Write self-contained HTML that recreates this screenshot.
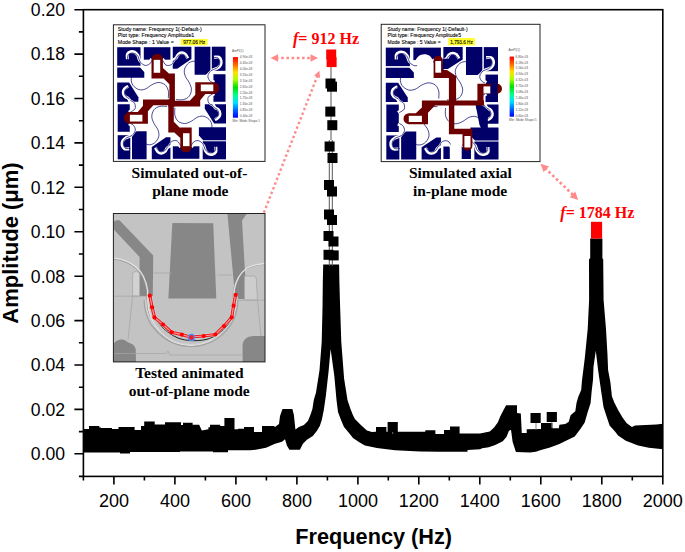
<!DOCTYPE html>
<html><head><meta charset="utf-8"><style>
html,body{margin:0;padding:0;background:#fff;}
svg{display:block;}
.tl{font-family:"Liberation Sans",sans-serif;font-size:18px;fill:#000;}
.ax{font-family:"Liberation Sans",sans-serif;font-size:21.5px;font-weight:bold;fill:#000;}
.cap{font-family:"Liberation Serif",serif;font-size:15.5px;font-weight:bold;fill:#000;}
.rl{font-family:"Liberation Serif",serif;font-size:16px;font-weight:bold;fill:#f00;}
.tiny{font-family:"Liberation Sans",sans-serif;font-size:6.2px;fill:#000;stroke:#000;stroke-width:0.12px;}
.micro{font-family:"Liberation Sans",sans-serif;font-size:3.2px;fill:#555;}
</style></head><body>
<svg width="685" height="552" viewBox="0 0 685 552">
<defs><clipPath id="plotclip"><rect x="83.4" y="9.7" width="579.4" height="466.7"/></clipPath></defs>
<rect x="113.4" y="24.8" width="151.6" height="136.6" fill="#fff" stroke="#222" stroke-width="1"/>
<text x="117.8" y="30.8" class="tiny" textLength="84" lengthAdjust="spacingAndGlyphs">Study name: Frequency 1(-Default-)</text>
<text x="117.8" y="37.4" class="tiny" textLength="76.5" lengthAdjust="spacingAndGlyphs">Plot type: Frequency Amplitude1</text>
<text x="117.8" y="44" class="tiny" textLength="56" lengthAdjust="spacingAndGlyphs">Mode Shape : 1  Value =</text>
<rect x="180.8" y="38.9" width="26.7" height="6.4" fill="#ffff30"/>
<text x="183.2" y="44" class="tiny" textLength="22" lengthAdjust="spacingAndGlyphs">977.06 Hz</text>
<rect x="117.20" y="46.70" width="108.80" height="112.61" fill="#fff"/>
<g transform="translate(171.6,103.0) scale(1.0,1.035)">
<g transform="rotate(0)" fill="#000068"><rect x="-54.4" y="-53.9" width="23.30" height="17.90"/>
<polygon points="-27.80,-53.91 -1.20,-53.91 -1.20,-41.84 -27.80,-41.84"/>
<polygon points="-54.4,-34.4 -31.6,-34.4 -27.3,-29.9 -27.3,-24.5 -54.4,-24.5"/>
<polygon points="-54.40,-19.81 -42.50,-19.81 -33.20,-5.60 -33.20,-1.16 -54.40,-1.16"/></g>
<g transform="rotate(90)" fill="#000068"><rect x="-54.4" y="-53.9" width="23.30" height="13.70"/>
<polygon points="-27.80,-53.91 -1.20,-53.91 -1.20,-41.84 -27.80,-41.84"/>
<polygon points="-54.4,-38.8 -31.6,-38.8 -27.3,-34.3 -27.3,-23.0 -54.4,-23.0"/>
<polygon points="-54.40,-19.81 -42.50,-19.81 -33.20,-5.60 -33.20,-1.16 -54.40,-1.16"/></g>
<g transform="rotate(180)" fill="#000068"><rect x="-54.4" y="-54.4" width="23.30" height="17.40"/>
<polygon points="-27.80,-53.91 -1.20,-53.91 -1.20,-41.84 -27.80,-41.84"/>
<polygon points="-54.4,-35.9 -31.6,-35.9 -27.3,-31.4 -27.3,-23.4 -54.4,-23.4"/>
<polygon points="-54.40,-19.81 -42.50,-19.81 -33.20,-5.60 -33.20,-1.16 -54.40,-1.16"/></g>
<g transform="rotate(270)" fill="#000068"><rect x="-54.4" y="-53.9" width="23.30" height="12.60"/>
<polygon points="-27.80,-53.91 -1.20,-53.91 -1.20,-41.84 -27.80,-41.84"/>
<polygon points="-54.4,-39.6 -31.6,-39.6 -27.3,-35.1 -27.3,-25.0 -54.4,-25.0"/>
<polygon points="-54.40,-19.81 -42.50,-19.81 -33.20,-5.60 -33.20,-1.16 -54.40,-1.16"/></g>
<g transform="rotate(0)"><path d="M-43.80,-41.06 C-43.80,-41.87 -44.33,-44.72 -43.80,-45.89 C-43.27,-47.07 -41.80,-47.81 -40.60,-48.12 C-39.40,-48.42 -37.80,-48.31 -36.60,-47.73 C-35.40,-47.15 -34.28,-46.02 -33.40,-44.64 C-32.52,-43.25 -32.47,-40.81 -31.30,-39.42 C-30.13,-38.04 -27.98,-36.59 -26.40,-36.33 C-24.82,-36.07 -22.93,-37.04 -21.80,-37.87 C-20.67,-38.71 -19.97,-40.77 -19.60,-41.35" stroke="#fff" stroke-width="3.0" fill="none" transform="translate(-0.4,-1.3)"/>
<path d="M-43.80,-41.06 C-43.80,-41.87 -44.33,-44.72 -43.80,-45.89 C-43.27,-47.07 -41.80,-47.81 -40.60,-48.12 C-39.40,-48.42 -37.80,-48.31 -36.60,-47.73 C-35.40,-47.15 -34.28,-46.02 -33.40,-44.64 C-32.52,-43.25 -32.47,-40.81 -31.30,-39.42 C-30.13,-38.04 -27.98,-36.59 -26.40,-36.33 C-24.82,-36.07 -22.93,-37.04 -21.80,-37.87 C-20.67,-38.71 -19.97,-40.77 -19.60,-41.35" stroke="#000068" stroke-width="0.7" fill="none"/>
<path d="M-9.00,-41.35 C-8.43,-40.56 -7.08,-37.33 -5.60,-36.62 C-4.12,-35.91 -1.47,-36.31 -0.10,-37.10 C1.27,-37.89 2.15,-40.64 2.60,-41.35" stroke="#fff" stroke-width="3.0" fill="none" transform="translate(0,-1.3)"/>
<path d="M-9.00,-41.35 C-8.43,-40.56 -7.08,-37.33 -5.60,-36.62 C-4.12,-35.91 -1.47,-36.31 -0.10,-37.10 C1.27,-37.89 2.15,-40.64 2.60,-41.35" stroke="#000068" stroke-width="0.7" fill="none"/>
<path d="M-42.00,-15.94 C-42.67,-15.51 -45.13,-14.35 -46.00,-13.33 C-46.87,-12.32 -47.27,-11.05 -47.20,-9.86 C-47.13,-8.66 -46.38,-7.10 -45.60,-6.18 C-44.82,-5.27 -43.42,-5.19 -42.50,-4.35 C-41.58,-3.51 -40.50,-1.69 -40.10,-1.16" stroke="#fff" stroke-width="3.0" fill="none" transform="translate(-1.2,-0.3)"/>
<path d="M-42.00,-15.94 C-42.67,-15.51 -45.13,-14.35 -46.00,-13.33 C-46.87,-12.32 -47.27,-11.05 -47.20,-9.86 C-47.13,-8.66 -46.38,-7.10 -45.60,-6.18 C-44.82,-5.27 -43.42,-5.19 -42.50,-4.35 C-41.58,-3.51 -40.50,-1.69 -40.10,-1.16" stroke="#000068" stroke-width="0.7" fill="none"/>
<path d="M-37.10,-28.79 C-37.63,-27.91 -40.03,-25.41 -40.30,-23.48 C-40.57,-21.55 -39.97,-18.95 -38.70,-17.20 C-37.43,-15.44 -34.78,-13.56 -32.70,-12.95 C-30.62,-12.33 -28.38,-12.74 -26.20,-13.53 C-24.02,-14.32 -21.78,-16.63 -19.60,-17.68 C-17.42,-18.73 -15.27,-19.81 -13.10,-19.81 C-10.93,-19.81 -8.23,-19.00 -6.60,-17.68 C-4.97,-16.36 -3.85,-14.07 -3.30,-11.88 C-2.75,-9.69 -3.30,-5.76 -3.30,-4.54" stroke="#000068" stroke-width="0.7" fill="none"/></g>
<g transform="rotate(90)"><path d="M-43.80,-41.06 C-43.80,-41.87 -44.33,-44.72 -43.80,-45.89 C-43.27,-47.07 -41.80,-47.81 -40.60,-48.12 C-39.40,-48.42 -37.80,-48.31 -36.60,-47.73 C-35.40,-47.15 -34.28,-46.02 -33.40,-44.64 C-32.52,-43.25 -32.47,-40.81 -31.30,-39.42 C-30.13,-38.04 -27.98,-36.59 -26.40,-36.33 C-24.82,-36.07 -22.93,-37.04 -21.80,-37.87 C-20.67,-38.71 -19.97,-40.77 -19.60,-41.35" stroke="#fff" stroke-width="3.0" fill="none" transform="translate(-0.4,-1.3)"/>
<path d="M-43.80,-41.06 C-43.80,-41.87 -44.33,-44.72 -43.80,-45.89 C-43.27,-47.07 -41.80,-47.81 -40.60,-48.12 C-39.40,-48.42 -37.80,-48.31 -36.60,-47.73 C-35.40,-47.15 -34.28,-46.02 -33.40,-44.64 C-32.52,-43.25 -32.47,-40.81 -31.30,-39.42 C-30.13,-38.04 -27.98,-36.59 -26.40,-36.33 C-24.82,-36.07 -22.93,-37.04 -21.80,-37.87 C-20.67,-38.71 -19.97,-40.77 -19.60,-41.35" stroke="#000068" stroke-width="0.7" fill="none"/>
<path d="M-9.00,-41.35 C-8.43,-40.56 -7.08,-37.33 -5.60,-36.62 C-4.12,-35.91 -1.47,-36.31 -0.10,-37.10 C1.27,-37.89 2.15,-40.64 2.60,-41.35" stroke="#fff" stroke-width="3.0" fill="none" transform="translate(0,-1.3)"/>
<path d="M-9.00,-41.35 C-8.43,-40.56 -7.08,-37.33 -5.60,-36.62 C-4.12,-35.91 -1.47,-36.31 -0.10,-37.10 C1.27,-37.89 2.15,-40.64 2.60,-41.35" stroke="#000068" stroke-width="0.7" fill="none"/>
<path d="M-42.00,-15.94 C-42.67,-15.51 -45.13,-14.35 -46.00,-13.33 C-46.87,-12.32 -47.27,-11.05 -47.20,-9.86 C-47.13,-8.66 -46.38,-7.10 -45.60,-6.18 C-44.82,-5.27 -43.42,-5.19 -42.50,-4.35 C-41.58,-3.51 -40.50,-1.69 -40.10,-1.16" stroke="#fff" stroke-width="3.0" fill="none" transform="translate(-1.2,-0.3)"/>
<path d="M-42.00,-15.94 C-42.67,-15.51 -45.13,-14.35 -46.00,-13.33 C-46.87,-12.32 -47.27,-11.05 -47.20,-9.86 C-47.13,-8.66 -46.38,-7.10 -45.60,-6.18 C-44.82,-5.27 -43.42,-5.19 -42.50,-4.35 C-41.58,-3.51 -40.50,-1.69 -40.10,-1.16" stroke="#000068" stroke-width="0.7" fill="none"/>
<path d="M-37.10,-28.79 C-37.63,-27.91 -40.03,-25.41 -40.30,-23.48 C-40.57,-21.55 -39.97,-18.95 -38.70,-17.20 C-37.43,-15.44 -34.78,-13.56 -32.70,-12.95 C-30.62,-12.33 -28.38,-12.74 -26.20,-13.53 C-24.02,-14.32 -21.78,-16.63 -19.60,-17.68 C-17.42,-18.73 -15.27,-19.81 -13.10,-19.81 C-10.93,-19.81 -8.23,-19.00 -6.60,-17.68 C-4.97,-16.36 -3.85,-14.07 -3.30,-11.88 C-2.75,-9.69 -3.30,-5.76 -3.30,-4.54" stroke="#000068" stroke-width="0.7" fill="none"/></g>
<g transform="rotate(180)"><path d="M-43.80,-41.06 C-43.80,-41.87 -44.33,-44.72 -43.80,-45.89 C-43.27,-47.07 -41.80,-47.81 -40.60,-48.12 C-39.40,-48.42 -37.80,-48.31 -36.60,-47.73 C-35.40,-47.15 -34.28,-46.02 -33.40,-44.64 C-32.52,-43.25 -32.47,-40.81 -31.30,-39.42 C-30.13,-38.04 -27.98,-36.59 -26.40,-36.33 C-24.82,-36.07 -22.93,-37.04 -21.80,-37.87 C-20.67,-38.71 -19.97,-40.77 -19.60,-41.35" stroke="#fff" stroke-width="3.0" fill="none" transform="translate(-0.4,-1.3)"/>
<path d="M-43.80,-41.06 C-43.80,-41.87 -44.33,-44.72 -43.80,-45.89 C-43.27,-47.07 -41.80,-47.81 -40.60,-48.12 C-39.40,-48.42 -37.80,-48.31 -36.60,-47.73 C-35.40,-47.15 -34.28,-46.02 -33.40,-44.64 C-32.52,-43.25 -32.47,-40.81 -31.30,-39.42 C-30.13,-38.04 -27.98,-36.59 -26.40,-36.33 C-24.82,-36.07 -22.93,-37.04 -21.80,-37.87 C-20.67,-38.71 -19.97,-40.77 -19.60,-41.35" stroke="#000068" stroke-width="0.7" fill="none"/>
<path d="M-9.00,-41.35 C-8.43,-40.56 -7.08,-37.33 -5.60,-36.62 C-4.12,-35.91 -1.47,-36.31 -0.10,-37.10 C1.27,-37.89 2.15,-40.64 2.60,-41.35" stroke="#fff" stroke-width="3.0" fill="none" transform="translate(0,-1.3)"/>
<path d="M-9.00,-41.35 C-8.43,-40.56 -7.08,-37.33 -5.60,-36.62 C-4.12,-35.91 -1.47,-36.31 -0.10,-37.10 C1.27,-37.89 2.15,-40.64 2.60,-41.35" stroke="#000068" stroke-width="0.7" fill="none"/>
<path d="M-42.00,-15.94 C-42.67,-15.51 -45.13,-14.35 -46.00,-13.33 C-46.87,-12.32 -47.27,-11.05 -47.20,-9.86 C-47.13,-8.66 -46.38,-7.10 -45.60,-6.18 C-44.82,-5.27 -43.42,-5.19 -42.50,-4.35 C-41.58,-3.51 -40.50,-1.69 -40.10,-1.16" stroke="#fff" stroke-width="3.0" fill="none" transform="translate(-1.2,-0.3)"/>
<path d="M-42.00,-15.94 C-42.67,-15.51 -45.13,-14.35 -46.00,-13.33 C-46.87,-12.32 -47.27,-11.05 -47.20,-9.86 C-47.13,-8.66 -46.38,-7.10 -45.60,-6.18 C-44.82,-5.27 -43.42,-5.19 -42.50,-4.35 C-41.58,-3.51 -40.50,-1.69 -40.10,-1.16" stroke="#000068" stroke-width="0.7" fill="none"/>
<path d="M-37.10,-28.79 C-37.63,-27.91 -40.03,-25.41 -40.30,-23.48 C-40.57,-21.55 -39.97,-18.95 -38.70,-17.20 C-37.43,-15.44 -34.78,-13.56 -32.70,-12.95 C-30.62,-12.33 -28.38,-12.74 -26.20,-13.53 C-24.02,-14.32 -21.78,-16.63 -19.60,-17.68 C-17.42,-18.73 -15.27,-19.81 -13.10,-19.81 C-10.93,-19.81 -8.23,-19.00 -6.60,-17.68 C-4.97,-16.36 -3.85,-14.07 -3.30,-11.88 C-2.75,-9.69 -3.30,-5.76 -3.30,-4.54" stroke="#000068" stroke-width="0.7" fill="none"/></g>
<g transform="rotate(270)"><path d="M-43.80,-41.06 C-43.80,-41.87 -44.33,-44.72 -43.80,-45.89 C-43.27,-47.07 -41.80,-47.81 -40.60,-48.12 C-39.40,-48.42 -37.80,-48.31 -36.60,-47.73 C-35.40,-47.15 -34.28,-46.02 -33.40,-44.64 C-32.52,-43.25 -32.47,-40.81 -31.30,-39.42 C-30.13,-38.04 -27.98,-36.59 -26.40,-36.33 C-24.82,-36.07 -22.93,-37.04 -21.80,-37.87 C-20.67,-38.71 -19.97,-40.77 -19.60,-41.35" stroke="#fff" stroke-width="3.0" fill="none" transform="translate(-0.4,-1.3)"/>
<path d="M-43.80,-41.06 C-43.80,-41.87 -44.33,-44.72 -43.80,-45.89 C-43.27,-47.07 -41.80,-47.81 -40.60,-48.12 C-39.40,-48.42 -37.80,-48.31 -36.60,-47.73 C-35.40,-47.15 -34.28,-46.02 -33.40,-44.64 C-32.52,-43.25 -32.47,-40.81 -31.30,-39.42 C-30.13,-38.04 -27.98,-36.59 -26.40,-36.33 C-24.82,-36.07 -22.93,-37.04 -21.80,-37.87 C-20.67,-38.71 -19.97,-40.77 -19.60,-41.35" stroke="#000068" stroke-width="0.7" fill="none"/>
<path d="M-9.00,-41.35 C-8.43,-40.56 -7.08,-37.33 -5.60,-36.62 C-4.12,-35.91 -1.47,-36.31 -0.10,-37.10 C1.27,-37.89 2.15,-40.64 2.60,-41.35" stroke="#fff" stroke-width="3.0" fill="none" transform="translate(0,-1.3)"/>
<path d="M-9.00,-41.35 C-8.43,-40.56 -7.08,-37.33 -5.60,-36.62 C-4.12,-35.91 -1.47,-36.31 -0.10,-37.10 C1.27,-37.89 2.15,-40.64 2.60,-41.35" stroke="#000068" stroke-width="0.7" fill="none"/>
<path d="M-42.00,-15.94 C-42.67,-15.51 -45.13,-14.35 -46.00,-13.33 C-46.87,-12.32 -47.27,-11.05 -47.20,-9.86 C-47.13,-8.66 -46.38,-7.10 -45.60,-6.18 C-44.82,-5.27 -43.42,-5.19 -42.50,-4.35 C-41.58,-3.51 -40.50,-1.69 -40.10,-1.16" stroke="#fff" stroke-width="3.0" fill="none" transform="translate(-1.2,-0.3)"/>
<path d="M-42.00,-15.94 C-42.67,-15.51 -45.13,-14.35 -46.00,-13.33 C-46.87,-12.32 -47.27,-11.05 -47.20,-9.86 C-47.13,-8.66 -46.38,-7.10 -45.60,-6.18 C-44.82,-5.27 -43.42,-5.19 -42.50,-4.35 C-41.58,-3.51 -40.50,-1.69 -40.10,-1.16" stroke="#000068" stroke-width="0.7" fill="none"/>
<path d="M-37.10,-28.79 C-37.63,-27.91 -40.03,-25.41 -40.30,-23.48 C-40.57,-21.55 -39.97,-18.95 -38.70,-17.20 C-37.43,-15.44 -34.78,-13.56 -32.70,-12.95 C-30.62,-12.33 -28.38,-12.74 -26.20,-13.53 C-24.02,-14.32 -21.78,-16.63 -19.60,-17.68 C-17.42,-18.73 -15.27,-19.81 -13.10,-19.81 C-10.93,-19.81 -8.23,-19.00 -6.60,-17.68 C-4.97,-16.36 -3.85,-14.07 -3.30,-11.88 C-2.75,-9.69 -3.30,-5.76 -3.30,-4.54" stroke="#000068" stroke-width="0.7" fill="none"/></g>
<g transform="rotate(0)"><path d="M-20.1,-42 A5.7,5.7 0 0 1 -8.7,-42 L-8.7,-33.8 L-2.7,-28.6 L3.3,-28.6 L3.3,3.3 L-2.2,3.3 L-2.2,-18.2 L-7.9,-23.7 L-20.1,-23.7 Z" fill="#6c0000"/><rect x="-17.9" y="-41.7" width="6.5" height="12.5" fill="#fff"/></g>
<g transform="rotate(90)"><path d="M-20.1,-42 A5.7,5.7 0 0 1 -8.7,-42 L-8.7,-33.8 L-2.7,-28.6 L3.3,-28.6 L3.3,3.3 L-2.2,3.3 L-2.2,-18.2 L-7.9,-23.7 L-20.1,-23.7 Z" fill="#6c0000"/><rect x="-17.9" y="-41.7" width="6.5" height="12.5" fill="#fff"/></g>
<g transform="rotate(180)"><path d="M-20.1,-42 A5.7,5.7 0 0 1 -8.7,-42 L-8.7,-33.8 L-2.7,-28.6 L3.3,-28.6 L3.3,3.3 L-2.2,3.3 L-2.2,-18.2 L-7.9,-23.7 L-20.1,-23.7 Z" fill="#6c0000"/><rect x="-17.9" y="-41.7" width="6.5" height="12.5" fill="#fff"/></g>
<g transform="rotate(270)"><path d="M-20.1,-42 A5.7,5.7 0 0 1 -8.7,-42 L-8.7,-33.8 L-2.7,-28.6 L3.3,-28.6 L3.3,3.3 L-2.2,3.3 L-2.2,-18.2 L-7.9,-23.7 L-20.1,-23.7 Z" fill="#6c0000"/><rect x="-17.9" y="-41.7" width="6.5" height="12.5" fill="#fff"/></g>
</g>
<linearGradient id="cb1" x1="0" y1="0" x2="0" y2="1"><stop offset="0" stop-color="#f00"/><stop offset="0.12" stop-color="#ff6000"/><stop offset="0.25" stop-color="#ffe000"/><stop offset="0.37" stop-color="#b0ff00"/><stop offset="0.5" stop-color="#00e000"/><stop offset="0.63" stop-color="#00ff90"/><stop offset="0.75" stop-color="#00e0ff"/><stop offset="0.88" stop-color="#0060ff"/><stop offset="1" stop-color="#0000ff"/></linearGradient>
<rect x="232.9" y="57.1" width="5.1" height="60.6" fill="url(#cb1)"/>
<text x="232" y="51.5" class="micro">AmPl(1)</text>
<text x="239.8" y="57.8" class="micro">4.90e-03</text>
<text x="239.8" y="63.8" class="micro">4.45e-03</text>
<text x="239.8" y="69.7" class="micro">4.00e-03</text>
<text x="239.8" y="75.7" class="micro">3.55e-03</text>
<text x="239.8" y="81.6" class="micro">3.10e-03</text>
<text x="239.8" y="87.5" class="micro">2.65e-03</text>
<text x="239.8" y="93.5" class="micro">2.20e-03</text>
<text x="239.8" y="99.4" class="micro">1.75e-03</text>
<text x="239.8" y="105.4" class="micro">1.30e-03</text>
<text x="239.8" y="111.3" class="micro">0.85e-03</text>
<text x="239.8" y="117.3" class="micro">0.40e-03</text>
<text x="232.5" y="121.5" class="micro">Min: Mode Shape 1</text>
<rect x="381.2" y="24.3" width="158.8" height="137.3" fill="#fff" stroke="#222" stroke-width="1"/>
<text x="387.6" y="30.8" class="tiny" textLength="80" lengthAdjust="spacingAndGlyphs">Study name: Frequency 1(-Default-)</text>
<text x="387.6" y="37.4" class="tiny" textLength="73.4" lengthAdjust="spacingAndGlyphs">Plot type: Frequency Amplitude5</text>
<text x="387.6" y="44" class="tiny" textLength="53" lengthAdjust="spacingAndGlyphs">Mode Shape : 5  Value =</text>
<rect x="448.3" y="38" width="26.6" height="7.4" fill="#ffff30"/>
<text x="450.3" y="44" class="tiny" textLength="22.5" lengthAdjust="spacingAndGlyphs">1,793.6 Hz</text>
<rect x="385.79" y="47.10" width="112.72" height="112.39" fill="#fff"/>
<g transform="translate(442.15,103.3) scale(1.036,1.033)">
<g transform="rotate(0)" fill="#000068"><rect x="-54.4" y="-53.9" width="23.30" height="17.90"/>
<polygon points="-27.80,-53.91 -1.20,-53.91 -1.20,-41.84 -27.80,-41.84"/>
<polygon points="-54.4,-34.4 -31.6,-34.4 -27.3,-29.9 -27.3,-24.5 -54.4,-24.5"/>
<polygon points="-54.40,-19.81 -42.50,-19.81 -33.20,-5.60 -33.20,-1.16 -54.40,-1.16"/></g>
<g transform="rotate(90)" fill="#000068"><rect x="-54.4" y="-53.9" width="23.30" height="13.70"/>
<polygon points="-27.80,-53.91 -1.20,-53.91 -1.20,-41.84 -27.80,-41.84"/>
<polygon points="-54.4,-38.8 -31.6,-38.8 -27.3,-34.3 -27.3,-23.0 -54.4,-23.0"/>
<polygon points="-54.40,-19.81 -42.50,-19.81 -33.20,-5.60 -33.20,-1.16 -54.40,-1.16"/></g>
<g transform="rotate(180)" fill="#000068"><rect x="-54.4" y="-54.4" width="23.30" height="17.40"/>
<polygon points="-27.80,-53.91 -1.20,-53.91 -1.20,-41.84 -27.80,-41.84"/>
<polygon points="-54.4,-35.9 -31.6,-35.9 -27.3,-31.4 -27.3,-23.4 -54.4,-23.4"/>
<polygon points="-54.40,-19.81 -42.50,-19.81 -33.20,-5.60 -33.20,-1.16 -54.40,-1.16"/></g>
<g transform="rotate(270)" fill="#000068"><rect x="-54.4" y="-53.9" width="23.30" height="12.60"/>
<polygon points="-27.80,-53.91 -1.20,-53.91 -1.20,-41.84 -27.80,-41.84"/>
<polygon points="-54.4,-39.6 -31.6,-39.6 -27.3,-35.1 -27.3,-25.0 -54.4,-25.0"/>
<polygon points="-54.40,-19.81 -42.50,-19.81 -33.20,-5.60 -33.20,-1.16 -54.40,-1.16"/></g>
<g transform="rotate(0)"><path d="M-43.80,-41.06 C-43.80,-41.87 -44.33,-44.72 -43.80,-45.89 C-43.27,-47.07 -41.80,-47.81 -40.60,-48.12 C-39.40,-48.42 -37.80,-48.31 -36.60,-47.73 C-35.40,-47.15 -34.28,-46.02 -33.40,-44.64 C-32.52,-43.25 -32.47,-40.81 -31.30,-39.42 C-30.13,-38.04 -27.98,-36.59 -26.40,-36.33 C-24.82,-36.07 -22.93,-37.04 -21.80,-37.87 C-20.67,-38.71 -19.97,-40.77 -19.60,-41.35" stroke="#fff" stroke-width="3.0" fill="none" transform="translate(-0.4,-1.3)"/>
<path d="M-43.80,-41.06 C-43.80,-41.87 -44.33,-44.72 -43.80,-45.89 C-43.27,-47.07 -41.80,-47.81 -40.60,-48.12 C-39.40,-48.42 -37.80,-48.31 -36.60,-47.73 C-35.40,-47.15 -34.28,-46.02 -33.40,-44.64 C-32.52,-43.25 -32.47,-40.81 -31.30,-39.42 C-30.13,-38.04 -27.98,-36.59 -26.40,-36.33 C-24.82,-36.07 -22.93,-37.04 -21.80,-37.87 C-20.67,-38.71 -19.97,-40.77 -19.60,-41.35" stroke="#000068" stroke-width="0.7" fill="none"/>
<path d="M-9.00,-41.35 C-8.43,-40.56 -7.08,-37.33 -5.60,-36.62 C-4.12,-35.91 -1.47,-36.31 -0.10,-37.10 C1.27,-37.89 2.15,-40.64 2.60,-41.35" stroke="#fff" stroke-width="3.0" fill="none" transform="translate(0,-1.3)"/>
<path d="M-9.00,-41.35 C-8.43,-40.56 -7.08,-37.33 -5.60,-36.62 C-4.12,-35.91 -1.47,-36.31 -0.10,-37.10 C1.27,-37.89 2.15,-40.64 2.60,-41.35" stroke="#000068" stroke-width="0.7" fill="none"/>
<path d="M-42.00,-15.94 C-42.67,-15.51 -45.13,-14.35 -46.00,-13.33 C-46.87,-12.32 -47.27,-11.05 -47.20,-9.86 C-47.13,-8.66 -46.38,-7.10 -45.60,-6.18 C-44.82,-5.27 -43.42,-5.19 -42.50,-4.35 C-41.58,-3.51 -40.50,-1.69 -40.10,-1.16" stroke="#fff" stroke-width="3.0" fill="none" transform="translate(-1.2,-0.3)"/>
<path d="M-42.00,-15.94 C-42.67,-15.51 -45.13,-14.35 -46.00,-13.33 C-46.87,-12.32 -47.27,-11.05 -47.20,-9.86 C-47.13,-8.66 -46.38,-7.10 -45.60,-6.18 C-44.82,-5.27 -43.42,-5.19 -42.50,-4.35 C-41.58,-3.51 -40.50,-1.69 -40.10,-1.16" stroke="#000068" stroke-width="0.7" fill="none"/>
<path d="M-37.10,-28.79 C-37.63,-27.91 -40.03,-25.41 -40.30,-23.48 C-40.57,-21.55 -39.97,-18.95 -38.70,-17.20 C-37.43,-15.44 -34.78,-13.56 -32.70,-12.95 C-30.62,-12.33 -28.38,-12.74 -26.20,-13.53 C-24.02,-14.32 -21.78,-16.63 -19.60,-17.68 C-17.42,-18.73 -15.27,-19.81 -13.10,-19.81 C-10.93,-19.81 -8.23,-19.00 -6.60,-17.68 C-4.97,-16.36 -3.85,-14.07 -3.30,-11.88 C-2.75,-9.69 -3.30,-5.76 -3.30,-4.54" stroke="#000068" stroke-width="0.7" fill="none"/></g>
<g transform="rotate(90)"><path d="M-43.80,-41.06 C-43.80,-41.87 -44.33,-44.72 -43.80,-45.89 C-43.27,-47.07 -41.80,-47.81 -40.60,-48.12 C-39.40,-48.42 -37.80,-48.31 -36.60,-47.73 C-35.40,-47.15 -34.28,-46.02 -33.40,-44.64 C-32.52,-43.25 -32.47,-40.81 -31.30,-39.42 C-30.13,-38.04 -27.98,-36.59 -26.40,-36.33 C-24.82,-36.07 -22.93,-37.04 -21.80,-37.87 C-20.67,-38.71 -19.97,-40.77 -19.60,-41.35" stroke="#fff" stroke-width="3.0" fill="none" transform="translate(-0.4,-1.3)"/>
<path d="M-43.80,-41.06 C-43.80,-41.87 -44.33,-44.72 -43.80,-45.89 C-43.27,-47.07 -41.80,-47.81 -40.60,-48.12 C-39.40,-48.42 -37.80,-48.31 -36.60,-47.73 C-35.40,-47.15 -34.28,-46.02 -33.40,-44.64 C-32.52,-43.25 -32.47,-40.81 -31.30,-39.42 C-30.13,-38.04 -27.98,-36.59 -26.40,-36.33 C-24.82,-36.07 -22.93,-37.04 -21.80,-37.87 C-20.67,-38.71 -19.97,-40.77 -19.60,-41.35" stroke="#000068" stroke-width="0.7" fill="none"/>
<path d="M-9.00,-41.35 C-8.43,-40.56 -7.08,-37.33 -5.60,-36.62 C-4.12,-35.91 -1.47,-36.31 -0.10,-37.10 C1.27,-37.89 2.15,-40.64 2.60,-41.35" stroke="#fff" stroke-width="3.0" fill="none" transform="translate(0,-1.3)"/>
<path d="M-9.00,-41.35 C-8.43,-40.56 -7.08,-37.33 -5.60,-36.62 C-4.12,-35.91 -1.47,-36.31 -0.10,-37.10 C1.27,-37.89 2.15,-40.64 2.60,-41.35" stroke="#000068" stroke-width="0.7" fill="none"/>
<path d="M-42.00,-15.94 C-42.67,-15.51 -45.13,-14.35 -46.00,-13.33 C-46.87,-12.32 -47.27,-11.05 -47.20,-9.86 C-47.13,-8.66 -46.38,-7.10 -45.60,-6.18 C-44.82,-5.27 -43.42,-5.19 -42.50,-4.35 C-41.58,-3.51 -40.50,-1.69 -40.10,-1.16" stroke="#fff" stroke-width="3.0" fill="none" transform="translate(-1.2,-0.3)"/>
<path d="M-42.00,-15.94 C-42.67,-15.51 -45.13,-14.35 -46.00,-13.33 C-46.87,-12.32 -47.27,-11.05 -47.20,-9.86 C-47.13,-8.66 -46.38,-7.10 -45.60,-6.18 C-44.82,-5.27 -43.42,-5.19 -42.50,-4.35 C-41.58,-3.51 -40.50,-1.69 -40.10,-1.16" stroke="#000068" stroke-width="0.7" fill="none"/>
<path d="M-37.10,-28.79 C-37.63,-27.91 -40.03,-25.41 -40.30,-23.48 C-40.57,-21.55 -39.97,-18.95 -38.70,-17.20 C-37.43,-15.44 -34.78,-13.56 -32.70,-12.95 C-30.62,-12.33 -28.38,-12.74 -26.20,-13.53 C-24.02,-14.32 -21.78,-16.63 -19.60,-17.68 C-17.42,-18.73 -15.27,-19.81 -13.10,-19.81 C-10.93,-19.81 -8.23,-19.00 -6.60,-17.68 C-4.97,-16.36 -3.85,-14.07 -3.30,-11.88 C-2.75,-9.69 -3.30,-5.76 -3.30,-4.54" stroke="#000068" stroke-width="0.7" fill="none"/></g>
<g transform="rotate(180)"><path d="M-43.80,-41.06 C-43.80,-41.87 -44.33,-44.72 -43.80,-45.89 C-43.27,-47.07 -41.80,-47.81 -40.60,-48.12 C-39.40,-48.42 -37.80,-48.31 -36.60,-47.73 C-35.40,-47.15 -34.28,-46.02 -33.40,-44.64 C-32.52,-43.25 -32.47,-40.81 -31.30,-39.42 C-30.13,-38.04 -27.98,-36.59 -26.40,-36.33 C-24.82,-36.07 -22.93,-37.04 -21.80,-37.87 C-20.67,-38.71 -19.97,-40.77 -19.60,-41.35" stroke="#fff" stroke-width="3.0" fill="none" transform="translate(-0.4,-1.3)"/>
<path d="M-43.80,-41.06 C-43.80,-41.87 -44.33,-44.72 -43.80,-45.89 C-43.27,-47.07 -41.80,-47.81 -40.60,-48.12 C-39.40,-48.42 -37.80,-48.31 -36.60,-47.73 C-35.40,-47.15 -34.28,-46.02 -33.40,-44.64 C-32.52,-43.25 -32.47,-40.81 -31.30,-39.42 C-30.13,-38.04 -27.98,-36.59 -26.40,-36.33 C-24.82,-36.07 -22.93,-37.04 -21.80,-37.87 C-20.67,-38.71 -19.97,-40.77 -19.60,-41.35" stroke="#000068" stroke-width="0.7" fill="none"/>
<path d="M-9.00,-41.35 C-8.43,-40.56 -7.08,-37.33 -5.60,-36.62 C-4.12,-35.91 -1.47,-36.31 -0.10,-37.10 C1.27,-37.89 2.15,-40.64 2.60,-41.35" stroke="#fff" stroke-width="3.0" fill="none" transform="translate(0,-1.3)"/>
<path d="M-9.00,-41.35 C-8.43,-40.56 -7.08,-37.33 -5.60,-36.62 C-4.12,-35.91 -1.47,-36.31 -0.10,-37.10 C1.27,-37.89 2.15,-40.64 2.60,-41.35" stroke="#000068" stroke-width="0.7" fill="none"/>
<path d="M-42.00,-15.94 C-42.67,-15.51 -45.13,-14.35 -46.00,-13.33 C-46.87,-12.32 -47.27,-11.05 -47.20,-9.86 C-47.13,-8.66 -46.38,-7.10 -45.60,-6.18 C-44.82,-5.27 -43.42,-5.19 -42.50,-4.35 C-41.58,-3.51 -40.50,-1.69 -40.10,-1.16" stroke="#fff" stroke-width="3.0" fill="none" transform="translate(-1.2,-0.3)"/>
<path d="M-42.00,-15.94 C-42.67,-15.51 -45.13,-14.35 -46.00,-13.33 C-46.87,-12.32 -47.27,-11.05 -47.20,-9.86 C-47.13,-8.66 -46.38,-7.10 -45.60,-6.18 C-44.82,-5.27 -43.42,-5.19 -42.50,-4.35 C-41.58,-3.51 -40.50,-1.69 -40.10,-1.16" stroke="#000068" stroke-width="0.7" fill="none"/>
<path d="M-37.10,-28.79 C-37.63,-27.91 -40.03,-25.41 -40.30,-23.48 C-40.57,-21.55 -39.97,-18.95 -38.70,-17.20 C-37.43,-15.44 -34.78,-13.56 -32.70,-12.95 C-30.62,-12.33 -28.38,-12.74 -26.20,-13.53 C-24.02,-14.32 -21.78,-16.63 -19.60,-17.68 C-17.42,-18.73 -15.27,-19.81 -13.10,-19.81 C-10.93,-19.81 -8.23,-19.00 -6.60,-17.68 C-4.97,-16.36 -3.85,-14.07 -3.30,-11.88 C-2.75,-9.69 -3.30,-5.76 -3.30,-4.54" stroke="#000068" stroke-width="0.7" fill="none"/></g>
<g transform="rotate(270)"><path d="M-43.80,-41.06 C-43.80,-41.87 -44.33,-44.72 -43.80,-45.89 C-43.27,-47.07 -41.80,-47.81 -40.60,-48.12 C-39.40,-48.42 -37.80,-48.31 -36.60,-47.73 C-35.40,-47.15 -34.28,-46.02 -33.40,-44.64 C-32.52,-43.25 -32.47,-40.81 -31.30,-39.42 C-30.13,-38.04 -27.98,-36.59 -26.40,-36.33 C-24.82,-36.07 -22.93,-37.04 -21.80,-37.87 C-20.67,-38.71 -19.97,-40.77 -19.60,-41.35" stroke="#fff" stroke-width="3.0" fill="none" transform="translate(-0.4,-1.3)"/>
<path d="M-43.80,-41.06 C-43.80,-41.87 -44.33,-44.72 -43.80,-45.89 C-43.27,-47.07 -41.80,-47.81 -40.60,-48.12 C-39.40,-48.42 -37.80,-48.31 -36.60,-47.73 C-35.40,-47.15 -34.28,-46.02 -33.40,-44.64 C-32.52,-43.25 -32.47,-40.81 -31.30,-39.42 C-30.13,-38.04 -27.98,-36.59 -26.40,-36.33 C-24.82,-36.07 -22.93,-37.04 -21.80,-37.87 C-20.67,-38.71 -19.97,-40.77 -19.60,-41.35" stroke="#000068" stroke-width="0.7" fill="none"/>
<path d="M-9.00,-41.35 C-8.43,-40.56 -7.08,-37.33 -5.60,-36.62 C-4.12,-35.91 -1.47,-36.31 -0.10,-37.10 C1.27,-37.89 2.15,-40.64 2.60,-41.35" stroke="#fff" stroke-width="3.0" fill="none" transform="translate(0,-1.3)"/>
<path d="M-9.00,-41.35 C-8.43,-40.56 -7.08,-37.33 -5.60,-36.62 C-4.12,-35.91 -1.47,-36.31 -0.10,-37.10 C1.27,-37.89 2.15,-40.64 2.60,-41.35" stroke="#000068" stroke-width="0.7" fill="none"/>
<path d="M-42.00,-15.94 C-42.67,-15.51 -45.13,-14.35 -46.00,-13.33 C-46.87,-12.32 -47.27,-11.05 -47.20,-9.86 C-47.13,-8.66 -46.38,-7.10 -45.60,-6.18 C-44.82,-5.27 -43.42,-5.19 -42.50,-4.35 C-41.58,-3.51 -40.50,-1.69 -40.10,-1.16" stroke="#fff" stroke-width="3.0" fill="none" transform="translate(-1.2,-0.3)"/>
<path d="M-42.00,-15.94 C-42.67,-15.51 -45.13,-14.35 -46.00,-13.33 C-46.87,-12.32 -47.27,-11.05 -47.20,-9.86 C-47.13,-8.66 -46.38,-7.10 -45.60,-6.18 C-44.82,-5.27 -43.42,-5.19 -42.50,-4.35 C-41.58,-3.51 -40.50,-1.69 -40.10,-1.16" stroke="#000068" stroke-width="0.7" fill="none"/>
<path d="M-37.10,-28.79 C-37.63,-27.91 -40.03,-25.41 -40.30,-23.48 C-40.57,-21.55 -39.97,-18.95 -38.70,-17.20 C-37.43,-15.44 -34.78,-13.56 -32.70,-12.95 C-30.62,-12.33 -28.38,-12.74 -26.20,-13.53 C-24.02,-14.32 -21.78,-16.63 -19.60,-17.68 C-17.42,-18.73 -15.27,-19.81 -13.10,-19.81 C-10.93,-19.81 -8.23,-19.00 -6.60,-17.68 C-4.97,-16.36 -3.85,-14.07 -3.30,-11.88 C-2.75,-9.69 -3.30,-5.76 -3.30,-4.54" stroke="#000068" stroke-width="0.7" fill="none"/></g>
</g>
<path d="M415,63 C416,55 424,52 430,56 L433,60 L433,70 C428,72 420,70 415,63 Z" fill="#fff"/>
<polygon points="442.3,58.8 457,58.8 457,62 442,70.5" fill="#000068"/>
<polygon points="475.3,103.3 487.8,109.8 487.8,128.3 483.5,133.2 479.5,125" fill="#000068"/>
<path d="M449.8,160 L449.8,147.5 A5.95,6.2 0 0 1 461.7,147.5 L461.7,160 Z" fill="#fff"/>
<path d="M433.6,78.1 L433.6,60.3 A4.5,4.5 0 0 1 442.6,60.3 L442.6,78.1 Z M433.6,70 L447,70 L456.1,76 L456.1,101 L448.9,101 L448.9,78.1 L433.6,78.1 Z M421.9,100.4 L484,100.4 L484,105.5 L435,105.5 L428,112.8 L428,124.2 L409,124.2 A5.5,5.5 0 0 1 409,113.2 L415.8,113.2 L421.9,107.5 Z M477.4,83.8 L483.5,83.8 L483.5,105.5 L477.4,105.5 Z M477.4,83.8 L497.0,83.8 A5.0,5.0 0 0 1 497.0,93.8 L477.4,93.8 Z M448.9,100 L454.3,100 L454.3,128.8 L448.9,134.2 Z M448.9,128.8 L472.4,128.8 L472.4,134.2 L448.9,134.2 Z M462.5,128.8 L472.4,128.8 L472.4,145.85000000000002 A4.949999999999989,4.949999999999989 0 0 1 462.5,145.85000000000002 Z" fill="#6c0000"/>
<rect x="435.3" y="61" width="5.8" height="11.7" fill="#fff"/>
<rect x="408.8" y="115.8" width="13.1" height="6.2" fill="#fff"/>
<rect x="483.5" y="86.4" width="7" height="7" fill="#fff"/>
<rect x="490.5" y="83.8" width="7" height="10" fill="#000068"/>
<rect x="464.4" y="136" width="6.1" height="11.5" fill="#fff"/>
<linearGradient id="cb2" x1="0" y1="0" x2="0" y2="1"><stop offset="0" stop-color="#f00"/><stop offset="0.12" stop-color="#ff6000"/><stop offset="0.25" stop-color="#ffe000"/><stop offset="0.37" stop-color="#b0ff00"/><stop offset="0.5" stop-color="#00e000"/><stop offset="0.63" stop-color="#00ff90"/><stop offset="0.75" stop-color="#00e0ff"/><stop offset="0.88" stop-color="#0060ff"/><stop offset="1" stop-color="#0000ff"/></linearGradient>
<rect x="509.6" y="56.6" width="4.4" height="60.1" fill="url(#cb2)"/>
<text x="508.5" y="51" class="micro">AmPl(1)</text>
<text x="515.5" y="57.5" class="micro">6.80e-03</text>
<text x="515.5" y="63.5" class="micro">6.18e-03</text>
<text x="515.5" y="69.4" class="micro">5.56e-03</text>
<text x="515.5" y="75.3" class="micro">4.94e-03</text>
<text x="515.5" y="81.3" class="micro">4.32e-03</text>
<text x="515.5" y="87.2" class="micro">3.70e-03</text>
<text x="515.5" y="93.2" class="micro">3.08e-03</text>
<text x="515.5" y="99.2" class="micro">2.46e-03</text>
<text x="515.5" y="105.1" class="micro">1.84e-03</text>
<text x="515.5" y="111.1" class="micro">1.22e-03</text>
<text x="515.5" y="117.0" class="micro">0.60e-03</text>
<text x="509" y="120.5" class="micro">Min: Mode Shape 5</text>
<defs><clipPath id="mclip"><rect x="113.4" y="213.5" width="151.6" height="148.4"/></clipPath></defs>
<rect x="113.4" y="213.5" width="151.6" height="148.4" fill="#c3c3c3"/>
<g clip-path="url(#mclip)">
<polygon points="113.4,222 116,220.3 119.5,220.3 153.2,255.5 152.8,296 139.6,296 139.6,257 114.3,230" fill="#878787"/>
<polygon points="172.3,223 213.2,223.2 216.3,298.6 168.4,298.6" fill="#878787"/>
<polygon points="227.4,213.5 247,213.5 242,220.5 246.6,299 238.4,299 234.6,291.3" fill="#878787"/>
<path d="M113.4,344 C116,340 122,338 126,341 C130,344 134,343 135.7,349 L136,362 L113.4,362 Z" fill="#878787"/>
<path d="M242.6,362 L242.6,345 C243,339 248,336 254,336 L265,336 L265,362 Z" fill="#878787"/>
<path d="M132.6,296 L132.6,274 Q132.6,271.7 135,271.7 L137.5,271.7 L139.6,274 L139.6,296 Z" fill="#d2d2d2" stroke="#9c9c9c" stroke-width="0.6"/>
<path d="M244.4,300 L244.4,276 L253.5,276 Q256.3,276 256.3,279 L257.5,300 Z" fill="#cdcdcd" stroke="#9c9c9c" stroke-width="0.6"/>
<path d="M113.4,296.2 H150 M238,300.2 H265 M153,273 H172 M217,275 H232.4 M132.6,296 L128,340 M257.5,300 L261,336 M113.4,353.5 H166 L168,351 L170,355 H242" stroke="#a4a4a4" stroke-width="0.7" fill="none"/>
<path d="M114,258.2 C122,259 130,262 136,267 C142,272 146,280 147.6,290 L147.8,300 A43,45.5 0 0 0 233.8,300 L234.2,290 C236,280 240,273 247,268 C252,265 258,264 265,263.5" stroke="#9a9a9a" stroke-width="1.0" fill="none" transform="translate(-0.8,0.9)"/>
<path d="M114,258.2 C122,259 130,262 136,267 C142,272 146,280 147.6,290 L147.8,300 A43,45.5 0 0 0 233.8,300 L234.2,290 C236,280 240,273 247,268 C252,265 258,264 265,263.5" stroke="#e2e2e2" stroke-width="1.3" fill="none"/>
<path d="M144.2,300 A46.8,46.5 0 0 0 237.8,300" stroke="#a2a2a2" stroke-width="1.2" fill="none"/>
<path d="M145.6,300 A45.4,44.6 0 0 0 236.4,300" stroke="#d6d6d6" stroke-width="1.0" fill="none"/>
<path d="M152.5,312 C156,322 166,333 178,338 C186,341 196,341.5 206,339.5 C216,337 226,330 232,318" stroke="#111" stroke-width="0.9" fill="none"/>
<path d="M149.8,295.6 L152.1,307.3 L154.5,317.4 L163,324.5 L171.6,332.3 L181.8,334.6 L190,337 L203.7,336 L215.4,334.5 L224,326 L231.7,317.4 L233.6,305.7 L235.6,294.8" stroke="#bfe8ee" stroke-width="4.4" fill="none" opacity="0.7"/>
<path d="M149.8,295.6 L152.1,307.3 L154.5,317.4 L163,324.5 L171.6,332.3 L181.8,334.6 L190,337 L203.7,336 L215.4,334.5 L224,326 L231.7,317.4 L233.6,305.7 L235.6,294.8" stroke="#f01818" stroke-width="3.2" fill="none"/>
<path d="M149.8,295.6 L152.1,307.3 L154.5,317.4 L163,324.5 L171.6,332.3 L181.8,334.6 L190,337 L203.7,336 L215.4,334.5 L224,326 L231.7,317.4 L233.6,305.7 L235.6,294.8" stroke="#ff9a9a" stroke-width="1.1" fill="none"/>
<circle cx="149.8" cy="295.6" r="2.1" fill="#f00"/>
<circle cx="152.1" cy="307.3" r="2.1" fill="#f00"/>
<circle cx="154.5" cy="317.4" r="2.1" fill="#f00"/>
<circle cx="163" cy="324.5" r="2.1" fill="#f00"/>
<circle cx="171.6" cy="332.3" r="2.1" fill="#f00"/>
<circle cx="181.8" cy="334.6" r="2.1" fill="#f00"/>
<circle cx="190" cy="337" r="2.1" fill="#f00"/>
<circle cx="203.7" cy="336" r="2.1" fill="#f00"/>
<circle cx="215.4" cy="334.5" r="2.1" fill="#f00"/>
<circle cx="224" cy="326" r="2.1" fill="#f00"/>
<circle cx="231.7" cy="317.4" r="2.1" fill="#f00"/>
<circle cx="233.6" cy="305.7" r="2.1" fill="#f00"/>
<circle cx="235.6" cy="294.8" r="2.1" fill="#f00"/>
<circle cx="191.4" cy="337.5" r="3.1" fill="#f02020" stroke="#4a90ff" stroke-width="1.4"/>
</g>
<rect x="113.4" y="213.5" width="151.6" height="148.4" fill="none" stroke="#222" stroke-width="1"/>
<text x="189.5" y="177.7" text-anchor="middle" class="cap">Simulated out-of-</text>
<text x="190.3" y="195.8" text-anchor="middle" class="cap">plane mode</text>
<text x="460.4" y="177.7" text-anchor="middle" class="cap">Simulated axial</text>
<text x="460.1" y="195.8" text-anchor="middle" class="cap">in-plane mode</text>
<text x="189.4" y="377.8" text-anchor="middle" class="cap">Tested animated</text>
<text x="189.2" y="395.5" text-anchor="middle" class="cap">out-of-plane mode</text>
<path d="M276,58 H312" stroke="#ff8a8a" stroke-width="2.6" stroke-dasharray="2.6,2.6" fill="none"/>
<polygon points="270.5,58.0 278.0,54.2 278.0,61.8" fill="#ff8a8a"/>
<polygon points="318.0,58.0 310.5,61.8 310.5,54.2" fill="#ff8a8a"/>
<path d="M263.9,212.6 L317.4,75.9" stroke="#ff8a8a" stroke-width="2.4" stroke-dasharray="2.4,2.6" fill="none"/>
<polygon points="319.4,70.8 320.1,78.0 314.0,75.7" fill="#ff8a8a"/>
<path d="M544.8,167.9 L573.9,195.7" stroke="#ff8a8a" stroke-width="2.6" stroke-dasharray="2.6,2.6" fill="none"/>
<polygon points="540.5,163.7 549.0,166.4 543.5,172.1" fill="#ff8a8a"/>
<polygon points="578.2,199.9 569.7,197.2 575.2,191.5" fill="#ff8a8a"/>
<text x="293" y="43.6" class="rl"><tspan font-style="italic">f</tspan>= 912 Hz</text>
<text x="560.3" y="218.3" class="rl"><tspan font-style="italic">f</tspan>= 1784 Hz</text>
<g clip-path="url(#plotclip)">
<polygon points="83.4,429.1 89.0,429.1 89.0,425.9 99.3,425.9 99.3,427.5 101.0,427.5 101.0,428.0 112.0,428.0 112.0,429.1 118.5,429.1 118.5,427.0 134.6,427.0 134.6,429.9 141.0,429.9 141.0,425.9 144.2,425.9 144.2,421.5 154.7,421.5 154.7,424.6 165.0,424.6 165.0,422.2 181.0,422.2 181.0,425.0 183.0,425.0 183.0,422.7 192.6,422.7 192.6,424.7 199.2,424.7 201.8,430.6 208.4,429.3 208.4,427.3 210.0,427.3 210.0,424.7 220.2,424.7 220.2,426.0 224.4,426.0 224.4,418.1 234.5,418.1 234.5,429.3 238.0,429.3 238.0,428.7 244.0,428.7 244.0,427.0 254.0,427.0 254.0,432.0 262.0,432.0 262.0,426.0 274.0,426.0 275.0,426.9 279.0,423.9 280.0,415.9 282.5,409.0 292.4,409.0 293.9,415.0 295.4,429.4 298.9,426.9 303.9,424.9 307.9,420.9 310.4,415.0 312.4,409.0 313.8,400.0 316.0,392.6 319.5,370.2 321.7,342.0 322.5,308.0 322.8,282.0 323.2,264.5 339.1,264.5 339.4,282.0 339.9,300.0 341.3,342.0 344.1,378.6 347.5,400.0 350.5,409.0 352.9,415.0 354.9,418.9 360.9,424.9 366.9,430.4 371.9,431.9 376.0,431.7 376.0,427.0 386.4,427.0 386.4,431.7 420.0,431.7 425.3,431.7 425.3,430.3 435.4,430.3 435.4,434.0 444.0,434.0 444.0,430.0 450.0,430.0 450.0,426.4 459.6,426.4 459.6,433.4 475.0,433.4 475.0,433.4 480.0,433.6 489.8,431.4 494.1,427.6 497.9,422.2 500.1,416.7 503.4,410.2 506.1,405.3 517.0,405.3 517.0,412.9 520.8,413.5 521.8,433.0 526.7,433.0 526.7,429.2 541.0,429.0 541.0,423.0 552.4,423.0 552.4,428.2 558.8,428.2 559.4,424.7 565.3,424.1 568.8,421.8 570.6,415.3 575.3,411.2 576.5,403.0 578.2,397.0 581.2,390.0 581.9,381.2 584.8,358.0 587.7,329.0 589.1,300.0 589.0,259.3 590.2,258.2 590.2,238.6 602.4,238.6 602.4,258.2 603.2,259.3 603.6,300.0 606.0,329.0 607.5,355.0 608.1,370.0 610.4,382.3 611.9,396.2 614.2,402.3 618.1,410.0 622.7,417.7 626.5,423.1 631.9,426.9 635.0,425.4 656.5,424.6 663.0,423.8 663.0,449.2 648.8,447.7 638.1,445.4 625.8,440.8 618.1,435.4 615.0,431.5 609.6,425.4 606.5,416.2 603.5,406.9 601.2,391.5 598.1,370.0 595.8,350.7 593.5,366.7 593.0,380.0 591.8,390.0 590.6,403.0 587.6,412.4 584.7,422.4 580.6,428.8 574.7,436.5 566.5,440.6 559.4,444.1 550.0,447.6 541.0,450.0 535.8,451.8 530.0,452.6 515.9,452.1 512.6,441.7 511.0,429.8 508.8,430.9 506.6,436.8 502.8,441.2 495.2,445.0 488.7,447.2 482.2,448.3 480.0,449.3 467.5,450.0 467.5,451.8 440.0,451.8 420.0,451.5 395.0,450.3 384.9,448.9 376.9,447.9 364.9,445.4 358.9,441.9 353.0,437.9 349.0,432.9 344.0,426.9 341.0,419.9 338.0,412.0 336.5,400.0 334.3,375.8 330.6,349.0 328.7,370.2 325.9,395.4 323.8,410.0 321.8,419.9 319.8,425.9 316.8,430.9 312.8,435.9 306.9,439.8 302.9,443.8 299.9,449.8 289.4,449.8 287.0,445.8 285.0,439.3 282.0,441.8 275.0,443.8 266.0,447.7 255.7,449.7 250.4,450.3 228.0,450.3 228.0,452.3 213.0,452.3 213.0,451.6 180.0,451.6 180.0,451.9 130.0,451.9 130.0,453.5 120.0,453.5 120.0,452.4 83.4,452.4" fill="#000"/>
<path d="M331,62 V140 M329.3,140 V266 M332.3,140 V266" stroke="#555" stroke-width="1" fill="none"/>
<rect x="325.5" y="78.5" width="10" height="10" fill="#000"/>
<rect x="327" y="81.7" width="10" height="10" fill="#000"/>
<rect x="325.3" y="106.6" width="10" height="10" fill="#000"/>
<rect x="327.3" y="120.2" width="10" height="10" fill="#000"/>
<rect x="324.6" y="141.5" width="10" height="10" fill="#000"/>
<rect x="327.5" y="153" width="10" height="10" fill="#000"/>
<rect x="324" y="180" width="10" height="10" fill="#000"/>
<rect x="327" y="186.5" width="10" height="10" fill="#000"/>
<rect x="324" y="209.5" width="10" height="10" fill="#000"/>
<rect x="327" y="215" width="10" height="10" fill="#000"/>
<rect x="323.5" y="231" width="10" height="10" fill="#000"/>
<rect x="328.5" y="236.5" width="10" height="10" fill="#000"/>
<rect x="323.5" y="249.8" width="10" height="10" fill="#000"/>
<rect x="328.7" y="250.4" width="10" height="10" fill="#000"/>
<path d="M536,423 V430 M551.8,422 V428 M392.7,432 V434" stroke="#777" stroke-width="0.9" fill="none"/>
<rect x="387.6" y="422" width="10.2" height="10" fill="#000"/>
<rect x="530.5" y="413" width="10.2" height="10" fill="#000"/>
<rect x="546.7" y="412" width="10.2" height="10" fill="#000"/>
<rect x="326.2" y="49.5" width="10" height="9.8" fill="#f00"/>
<rect x="326.6" y="57.3" width="10" height="9.8" fill="#f00"/>
<rect x="591" y="221.8" width="11.1" height="16.8" fill="#f00"/>
</g>
<rect x="83.4" y="9.7" width="579.4" height="466.7" fill="none" stroke="#000" stroke-width="1.6"/>
<path d="M74.4,453.8H83.4M78.9,431.6H83.4M74.4,409.4H83.4M78.9,387.2H83.4M74.4,365.0H83.4M78.9,342.8H83.4M74.4,320.6H83.4M78.9,298.4H83.4M74.4,276.2H83.4M78.9,254.0H83.4M74.4,231.8H83.4M78.9,209.5H83.4M74.4,187.3H83.4M78.9,165.1H83.4M74.4,142.9H83.4M78.9,120.7H83.4M74.4,98.5H83.4M78.9,76.3H83.4M74.4,54.1H83.4M78.9,31.9H83.4M74.4,9.7H83.4M78.9,476.4H83.4M83.4,476.4V480.4M113.9,476.4V484.4M144.4,476.4V480.4M174.9,476.4V484.4M205.4,476.4V480.4M235.9,476.4V484.4M266.4,476.4V480.4M296.9,476.4V484.4M327.4,476.4V480.4M357.9,476.4V484.4M388.3,476.4V480.4M418.8,476.4V484.4M449.3,476.4V480.4M479.8,476.4V484.4M510.3,476.4V480.4M540.8,476.4V484.4M571.3,476.4V480.4M601.8,476.4V484.4M632.3,476.4V480.4M662.8,476.4V484.4" stroke="#000" stroke-width="1.6" fill="none"/>
<text x="65.1" y="460.1" text-anchor="end" class="tl" style="font-size:17.6px">0.00</text>
<text x="65.1" y="415.7" text-anchor="end" class="tl" style="font-size:17.6px">0.02</text>
<text x="65.1" y="371.3" text-anchor="end" class="tl" style="font-size:17.6px">0.04</text>
<text x="65.1" y="326.9" text-anchor="end" class="tl" style="font-size:17.6px">0.06</text>
<text x="65.1" y="282.5" text-anchor="end" class="tl" style="font-size:17.6px">0.08</text>
<text x="65.1" y="238.1" text-anchor="end" class="tl" style="font-size:17.6px">0.10</text>
<text x="65.1" y="193.6" text-anchor="end" class="tl" style="font-size:17.6px">0.12</text>
<text x="65.1" y="149.2" text-anchor="end" class="tl" style="font-size:17.6px">0.14</text>
<text x="65.1" y="104.8" text-anchor="end" class="tl" style="font-size:17.6px">0.16</text>
<text x="65.1" y="60.4" text-anchor="end" class="tl" style="font-size:17.6px">0.18</text>
<text x="65.1" y="16.0" text-anchor="end" class="tl" style="font-size:17.6px">0.20</text>
<text x="113.9" y="507" text-anchor="middle" class="tl">200</text>
<text x="174.9" y="507" text-anchor="middle" class="tl">400</text>
<text x="235.9" y="507" text-anchor="middle" class="tl">600</text>
<text x="296.9" y="507" text-anchor="middle" class="tl">800</text>
<text x="357.9" y="507" text-anchor="middle" class="tl">1000</text>
<text x="418.8" y="507" text-anchor="middle" class="tl">1200</text>
<text x="479.8" y="507" text-anchor="middle" class="tl">1400</text>
<text x="540.8" y="507" text-anchor="middle" class="tl">1600</text>
<text x="601.8" y="507" text-anchor="middle" class="tl">1800</text>
<text x="662.8" y="507" text-anchor="middle" class="tl">2000</text>
<text x="373.7" y="544" text-anchor="middle" class="ax" style="font-size:21.7px">Frequency (Hz)</text>
<text transform="translate(18.3,243) rotate(-90)" text-anchor="middle" class="ax" style="font-size:22px">Amplitude (μm)</text>
</svg>
</body></html>
